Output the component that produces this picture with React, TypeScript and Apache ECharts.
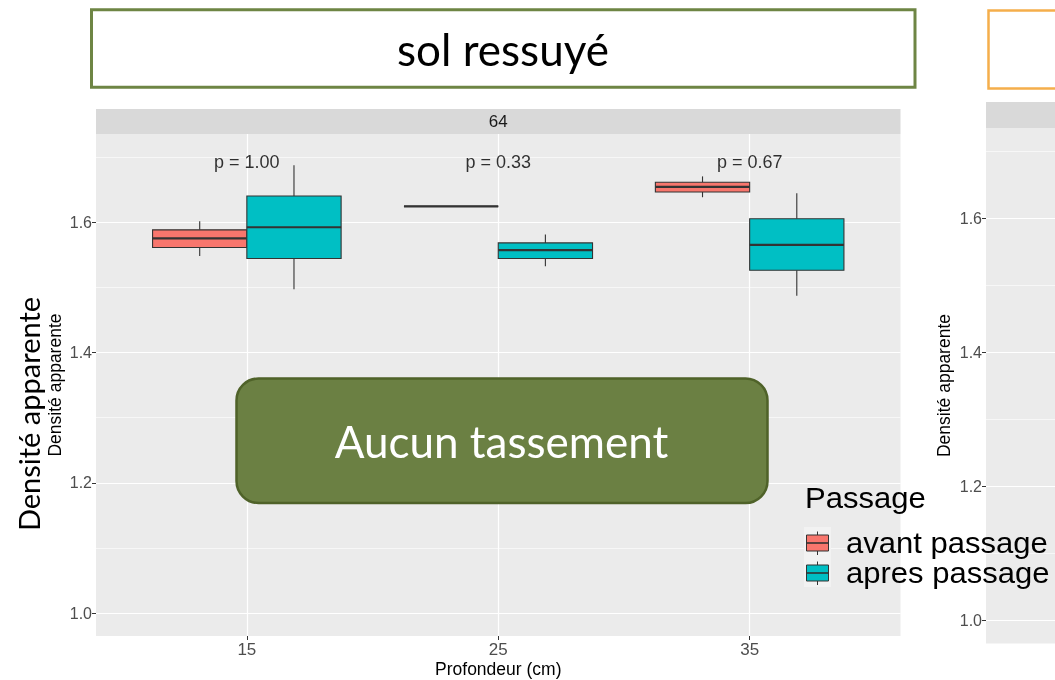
import React, { useEffect, useRef } from "react";
import * as echarts from "echarts";

// ---------------- data ----------------
const depths = ["15", "25", "35"];
const facetLabel = "64";
const groupNames = ["avant passage", "apres passage"];
const groupColors = ["#F8766D", "#00BFC4"];
// [min, Q1, median, Q3, max] for each depth
const avantStats = [
  [1.548, 1.561, 1.575, 1.588, 1.601],
  [1.624, 1.624, 1.624, 1.624, 1.624],
  [1.638, 1.646, 1.654, 1.661, 1.67],
];
const apresStats = [
  [1.497, 1.544, 1.592, 1.64, 1.687],
  [1.532, 1.544, 1.557, 1.568, 1.581],
  [1.487, 1.526, 1.565, 1.605, 1.644],
];
const pLabels = ["p = 1.00", "p = 0.33", "p = 0.67"];
const pLabelY = 1.692;
const yTicks = [1.0, 1.2, 1.4, 1.6];
const yMinorTicks = [1.1, 1.3, 1.5, 1.7];
const yLimits = [1.0, 1.7];
const panelTitle = "sol ressuyé";
const calloutText = "Aucun tassement";
const yTitle = "Densité apparente";
const xTitle = "Profondeur (cm)";
const legendTitle = "Passage";

// ---------------- styling ----------------
const GG = '"Liberation Sans", Arial, sans-serif';
const PPT = 'Lato, "Open Sans", sans-serif';
const BOX_W = 0.375;
const expand = (yLimits[1] - yLimits[0]) * 0.05;
const yMin = yLimits[0] - expand;
const yMax = yLimits[1] + expand;
const xPositions = depths.map((_, i) => i + 1);

const makeRender = (offset: number, color: string) => (_params: any, api: any) => {
  const x = api.value(0) + offset;
  const lo = api.value(1);
  const q1 = api.value(2);
  const med = api.value(3);
  const q3 = api.value(4);
  const hi = api.value(5);
  const half = api.size([BOX_W, 0])[0] / 2;
  const cx = api.coord([x, med])[0];
  const yLo = api.coord([x, lo])[1];
  const yQ1 = api.coord([x, q1])[1];
  const yMed = api.coord([x, med])[1];
  const yQ3 = api.coord([x, q3])[1];
  const yHi = api.coord([x, hi])[1];
  const stroke = "#333333";
  return {
    type: "group",
    children: [
      { type: "line", shape: { x1: cx, y1: yHi, x2: cx, y2: yQ3 }, style: { stroke, lineWidth: 1.1 } },
      { type: "line", shape: { x1: cx, y1: yQ1, x2: cx, y2: yLo }, style: { stroke, lineWidth: 1.1 } },
      {
        type: "rect",
        shape: { x: cx - half, y: yQ3, width: 2 * half, height: Math.max(yQ1 - yQ3, 0) },
        style: { fill: color, stroke, lineWidth: 1.1 },
      },
      { type: "line", shape: { x1: cx - half, y1: yMed, x2: cx + half, y2: yMed }, style: { stroke, lineWidth: 2.2 } },
    ],
  };
};

const gridLines = (withX: boolean) => ({
  silent: true,
  symbol: ["none", "none"],
  z: 1,
  animation: false,
  label: { show: false },
  emphasis: { disabled: true },
  lineStyle: { color: "#FFFFFF", type: "solid" },
  data: [
    ...(withX ? xPositions.map((v) => ({ xAxis: v, lineStyle: { width: 1.2 } })) : []),
    ...yTicks.map((v) => ({ yAxis: v, lineStyle: { width: 1.2 } })),
    ...yMinorTicks.map((v) => ({ yAxis: v, lineStyle: { width: 0.6 } })),
  ],
});

const yAxisBase = (gridIndex: number) => ({
  type: "value",
  gridIndex,
  min: yMin,
  max: yMax,
  axisLine: { show: false },
  axisTick: { show: true, customValues: yTicks, length: 4, lineStyle: { color: "#333333", width: 1 } },
  axisLabel: {
    show: true,
    customValues: yTicks,
    formatter: (v: number) => v.toFixed(1),
    color: "#4D4D4D",
    fontSize: 16,
    fontFamily: GG,
    margin: 4,
  },
  splitLine: { show: false },
});

export default function App() {
  const ref = useRef<HTMLDivElement>(null);
  useEffect(() => {
    if (!ref.current) return;
    const chart = echarts.init(ref.current, null, { renderer: "svg" });
    const legendText = (text: string, x: number, y: number) => ({
      type: "text",
      z: 103,
      x,
      y,
      scaleX: 1.07,
      style: { text, x: 0, y: 0, fontSize: 29, fontFamily: GG, fill: "#000", align: "left", verticalAlign: "middle" },
    });
    const legendKey = (i: number, y: number) => [
      { type: "line", z: 101, shape: { x1: 817.5, y1: y - 11.5, x2: 817.5, y2: y + 12 }, style: { stroke: "#333333", lineWidth: 1 } },
      { type: "rect", z: 102, shape: { x: 806.5, y: y - 8, width: 22, height: 16 }, style: { fill: groupColors[i], stroke: "#333333", lineWidth: 1 } },
      { type: "line", z: 103, shape: { x1: 806.5, y1: y, x2: 828.5, y2: y }, style: { stroke: "#333333", lineWidth: 1.6 } },
      legendText(groupNames[i], 846, y),
    ];
    chart.setOption({
      animation: false,
      grid: [
        { left: 96, top: 134, width: 804.5, height: 502, show: true, backgroundColor: "#EBEBEB", borderWidth: 0, outerBoundsMode: "none", containLabel: false },
        { left: 986, top: 128, width: 800, height: 515.5, show: true, backgroundColor: "#EBEBEB", borderWidth: 0, outerBoundsMode: "none", containLabel: false },
      ],
      xAxis: [
        {
          type: "value",
          gridIndex: 0,
          min: 0.4,
          max: depths.length + 0.6,
          axisLine: { show: false },
          axisTick: { show: true, customValues: xPositions, length: 4, lineStyle: { color: "#333333", width: 1 } },
          axisLabel: {
            show: true,
            customValues: xPositions,
            formatter: (v: number) => depths[Math.round(v) - 1] ?? "",
            color: "#4D4D4D",
            fontSize: 17,
            fontFamily: GG,
            margin: 5,
          },
          splitLine: { show: false },
        },
        {
          type: "value",
          gridIndex: 1,
          min: 0.4,
          max: 3.6,
          axisLine: { show: false },
          axisTick: { show: false },
          axisLabel: { show: false },
          splitLine: { show: false },
        },
      ],
      yAxis: [yAxisBase(0), yAxisBase(1)],
      series: [
        {
          type: "custom",
          name: groupNames[0],
          xAxisIndex: 0,
          yAxisIndex: 0,
          z: 3,
          renderItem: makeRender(-BOX_W / 2, groupColors[0]),
          encode: { x: 0, y: [1, 2, 3, 4, 5] },
          data: avantStats.map((s, i) => [xPositions[i], ...s]),
          markLine: gridLines(true),
        },
        {
          type: "custom",
          name: groupNames[1],
          xAxisIndex: 0,
          yAxisIndex: 0,
          z: 3,
          renderItem: makeRender(BOX_W / 2, groupColors[1]),
          encode: { x: 0, y: [1, 2, 3, 4, 5] },
          data: apresStats.map((s, i) => [xPositions[i], ...s]),
        },
        {
          type: "scatter",
          xAxisIndex: 0,
          yAxisIndex: 0,
          z: 4,
          silent: true,
          symbolSize: 1,
          itemStyle: { color: "rgba(0,0,0,0)" },
          data: pLabels.map((_, i) => [xPositions[i], pLabelY]),
          label: {
            show: true,
            position: "inside",
            formatter: (p: any) => pLabels[p.dataIndex],
            fontSize: 18,
            fontFamily: GG,
            color: "#000",
          },
        },
        {
          type: "line",
          xAxisIndex: 1,
          yAxisIndex: 1,
          data: [],
          markLine: gridLines(false),
        },
      ],
      graphic: [
        // title boxes
        {
          type: "rect",
          z: 50,
          shape: { x: 91.5, y: 9.7, width: 823.5, height: 77.5 },
          style: { fill: "#FFFFFF", stroke: "#6E8544", lineWidth: 3 },
        },
        {
          type: "text",
          z: 51,
          style: { text: panelTitle, x: 503, y: 49, fontSize: 44, fontFamily: PPT, fill: "#000", align: "center", verticalAlign: "middle" },
        },
        {
          type: "rect",
          z: 50,
          shape: { x: 988.5, y: 10.5, width: 200, height: 78 },
          style: { fill: "#FFFFFF", stroke: "#F5AE4B", lineWidth: 2.5 },
        },
        // strips
        { type: "rect", z: 10, shape: { x: 96, y: 109, width: 804.5, height: 25 }, style: { fill: "#D9D9D9" } },
        {
          type: "text",
          z: 11,
          style: { text: facetLabel, x: 498.25, y: 121.5, fontSize: 17, fontFamily: GG, fill: "#1A1A1A", align: "center", verticalAlign: "middle" },
        },
        { type: "rect", z: 10, shape: { x: 986, y: 102, width: 200, height: 26 }, style: { fill: "#D9D9D9" } },
        // axis titles
        {
          type: "text",
          z: 11,
          style: { text: xTitle, x: 498.25, y: 669, fontSize: 17.5, fontFamily: GG, fill: "#000", align: "center", verticalAlign: "middle" },
        },
        {
          type: "text",
          z: 11,
          rotation: Math.PI / 2,
          x: 55,
          y: 385,
          style: { text: yTitle, fontSize: 17.5, fontFamily: GG, fill: "#000", align: "center", verticalAlign: "middle" },
        },
        {
          type: "text",
          z: 11,
          rotation: Math.PI / 2,
          x: 944,
          y: 385.5,
          style: { text: yTitle, fontSize: 17.5, fontFamily: GG, fill: "#000", align: "center", verticalAlign: "middle" },
        },
        {
          type: "text",
          z: 60,
          rotation: Math.PI / 2,
          x: 28,
          y: 414,
          style: { text: yTitle, fontSize: 29, fontFamily: PPT, fill: "#000", align: "center", verticalAlign: "middle" },
        },
        // callout
        {
          type: "rect",
          z: 100,
          shape: { x: 236.5, y: 378.5, width: 531, height: 124.5, r: 22 },
          style: { fill: "#6B8043", stroke: "#4F6229", lineWidth: 2.5 },
        },
        {
          type: "text",
          z: 101,
          style: { text: calloutText, x: 501.5, y: 441, fontSize: 44, fontFamily: PPT, fill: "#FFFFFF", align: "center", verticalAlign: "middle" },
        },
        // legend
        legendText(legendTitle, 805, 498),
        { type: "rect", z: 99, shape: { x: 804, y: 527, width: 27, height: 60 }, style: { fill: "#F2F2F2" } },
        ...legendKey(0, 543),
        ...legendKey(1, 573),
      ],
    });
    return () => chart.dispose();
  }, []);
  return <div ref={ref} style={{ position: "fixed", left: 0, top: 0, width: 1055, height: 680 }} />;
}
